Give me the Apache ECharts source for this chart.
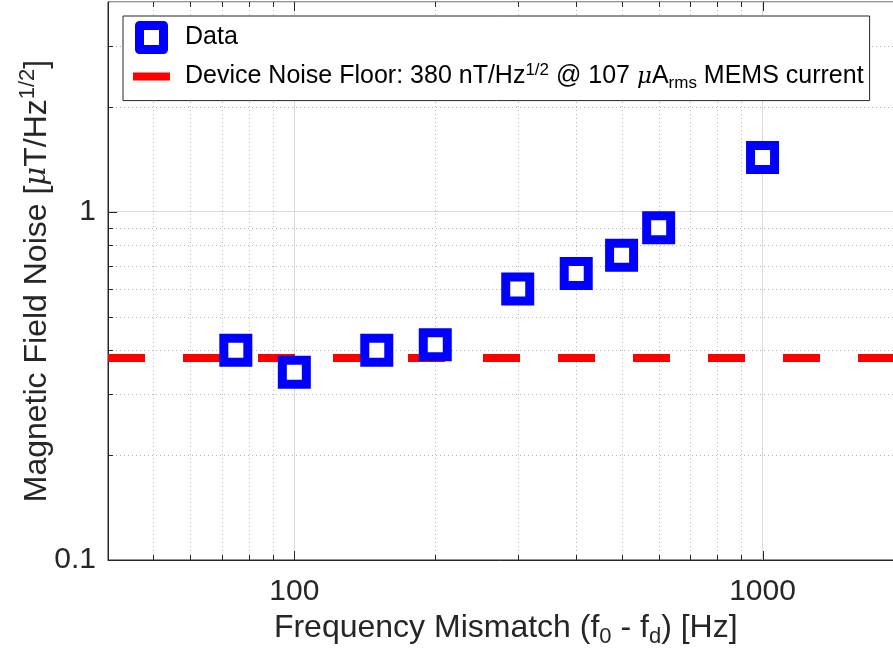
<!DOCTYPE html>
<html>
<head>
<meta charset="utf-8">
<script src="https://cdn.jsdelivr.net/npm/echarts@6/dist/echarts.min.js"></script>
<style>
  html, body { margin: 0; padding: 0; background: #fff; }
  #chart { width: 893px; height: 653px; }
</style>
</head>
<body>
<div id="chart"></div>
<script>
// Measured magnetic field noise versus drive/sense frequency mismatch
const freqHz = [75, 100, 150, 200, 300, 400, 500, 600, 1000];
const noiseUT = [0.40, 0.346, 0.40, 0.415, 0.60, 0.665, 0.75, 0.90, 1.43];

// Device noise floor: 380 nT/Hz^1/2 = 0.38 uT/Hz^1/2
const noiseFloorUT = 0.38;

// Axis ranges and log-decade grid positions
const xRange = [40, 2000];
const yRange = [0.1, 4];
const xMajorTicks = [100, 1000];
const xMinorTicks = [50, 60, 70, 80, 90, 200, 300, 400, 500, 600, 700, 800, 900];
const yMajorTicks = [1];
const yMinorTicks = [0.2, 0.3, 0.4, 0.5, 0.6, 0.7, 0.8, 0.9, 2, 3];

const FONT = '"Liberation Sans", Arial, Helvetica, sans-serif';
const MU_FONT = '"DejaVu Serif", "Liberation Serif", serif';
const AXIS_COLOR = '#262626';

const chart = echarts.init(document.getElementById('chart'), null, { renderer: 'canvas' });

// rows: [x, y, kind]  kind 0 = x major, 1 = x minor, 2 = y major, 3 = y minor
const gridRows = [];
xMajorTicks.forEach(v => gridRows.push([v, yRange[0], 0]));
xMinorTicks.forEach(v => gridRows.push([v, yRange[0], 1]));
yMajorTicks.forEach(v => gridRows.push([xRange[0], v, 2]));
yMinorTicks.forEach(v => gridRows.push([xRange[0], v, 3]));

function crisp(v) { return Math.round(v) + 0.5; }

// Dotted minor grid plus inward tick marks on the bottom, top and left edges
function renderGridMark(params, api) {
  const cs = params.coordSys;
  const kind = api.value(2);
  const p = api.coord([api.value(0), api.value(1)]);
  const tick = { stroke: AXIS_COLOR, lineWidth: 1 };
  const dotted = { stroke: '#b8b8b8', lineWidth: 1, lineDash: [1, 3] };
  const children = [];
  if (kind <= 1) {
    const x = crisp(p[0]);
    const len = kind === 0 ? 9 : 5;
    if (kind === 1) {
      children.push({ type: 'line', shape: { x1: x, y1: cs.y, x2: x, y2: cs.y + cs.height }, style: dotted });
    }
    children.push({ type: 'line', shape: { x1: x, y1: cs.y + cs.height, x2: x, y2: cs.y + cs.height - len }, style: tick });
    children.push({ type: 'line', shape: { x1: x, y1: cs.y, x2: x, y2: cs.y + len }, style: tick });
  } else {
    const y = crisp(p[1]);
    const len = kind === 2 ? 9 : 5;
    if (kind === 3) {
      children.push({ type: 'line', shape: { x1: cs.x, y1: y, x2: cs.x + cs.width, y2: y }, style: dotted });
    }
    children.push({ type: 'line', shape: { x1: cs.x, y1: y, x2: cs.x + len, y2: y }, style: tick });
  }
  return { type: 'group', children: children };
}

function decadeLabel(v) {
  const e = Math.log10(v);
  if (Math.abs(e - Math.round(e)) > 1e-6) return '';
  return String(Number(v.toPrecision(6)));
}

const legendText = {
  Data: '{n|Data}',
  noiseFloor: '{n|Device Noise Floor: 380 nT/Hz}{sup|1/2}{n| @ 107 }{mu|\u03bc}{n|A}{sub|rms}{n| MEMS current}'
};

const option = {
  animation: false,
  backgroundColor: '#fff',
  grid: {
    left: 108, top: 2, width: 795.5, bottom: 93,
    containLabel: false, outerBoundsMode: 'none',
    show: true, borderColor: AXIS_COLOR, borderWidth: 1, backgroundColor: '#fff'
  },
  xAxis: {
    type: 'log', logBase: 10, min: xRange[0], max: xRange[1],
    name: '{n|Frequency Mismatch (f}{sub|0}{n| - f}{sub|d}{n|) [Hz]}',
    nameLocation: 'middle', nameGap: 48, nameMoveOverlap: false,
    nameTextStyle: {
      color: AXIS_COLOR,
      rich: {
        n: { fontFamily: FONT, fontSize: 32, color: AXIS_COLOR, lineHeight: 40 },
        sub: { fontFamily: FONT, fontSize: 22, color: AXIS_COLOR, lineHeight: 22, verticalAlign: 'bottom' }
      }
    },
    axisLine: { show: true, lineStyle: { color: AXIS_COLOR, width: 1 } },
    axisTick: { show: false },
    axisLabel: { formatter: decadeLabel, fontFamily: FONT, fontSize: 30, color: AXIS_COLOR, margin: 17, showMinLabel: false, showMaxLabel: false },
    splitLine: { show: true, lineStyle: { color: '#dadada', width: 1 } },
    minorTick: { show: false }
  },
  yAxis: {
    type: 'log', logBase: 10, min: yRange[0], max: yRange[1],
    name: '{n|Magnetic Field Noise [}{mu|\u03bc}{n|T/Hz}{sup|1/2}{n|]}',
    nameLocation: 'middle', nameGap: 51, nameRotate: 90, nameMoveOverlap: false,
    nameTextStyle: {
      color: AXIS_COLOR,
      rich: {
        n: { fontFamily: FONT, fontSize: 32, color: AXIS_COLOR, lineHeight: 40 },
        mu: { fontFamily: MU_FONT, fontStyle: 'italic', fontSize: 29, color: AXIS_COLOR, lineHeight: 40 },
        sup: { fontFamily: FONT, fontSize: 22, color: AXIS_COLOR, lineHeight: 22, verticalAlign: 'top' }
      }
    },
    axisLine: { show: true, lineStyle: { color: AXIS_COLOR, width: 1 } },
    axisTick: { show: false },
    axisLabel: { formatter: decadeLabel, fontFamily: FONT, fontSize: 30, color: AXIS_COLOR, margin: 12, showMaxLabel: false },
    splitLine: { show: true, lineStyle: { color: '#dadada', width: 1 } },
    minorTick: { show: false }
  },
  legend: {
    orient: 'vertical', left: 123, top: 16,
    padding: [5, 6, 9, 10],
    itemWidth: 37, itemHeight: 24, itemGap: 7.6,
    symbolKeepAspect: true,
    borderColor: AXIS_COLOR, borderWidth: 1, backgroundColor: '#fff',
    selectedMode: false,
    data: [
      { name: 'Data', icon: 'path://M0,0H10V10H0Z', itemStyle: { color: '#fff', borderColor: '#0000ff', borderWidth: 9, borderJoin: 'round' } },
      { name: 'noiseFloor', icon: 'path://M0,0H37V8H0Z', itemStyle: { color: '#ff0000', borderWidth: 0 } }
    ],
    formatter: name => legendText[name],
    textStyle: {
      color: '#000',
      padding: [0, 0, 0, 10],
      rich: {
        n: { fontFamily: FONT, fontSize: 25, color: '#000', lineHeight: 30 },
        mu: { fontFamily: MU_FONT, fontStyle: 'italic', fontSize: 23, color: '#000', lineHeight: 30 },
        sup: { fontFamily: FONT, fontSize: 17, color: '#000', lineHeight: 16, verticalAlign: 'top' },
        sub: { fontFamily: FONT, fontSize: 17, color: '#000', lineHeight: 16, verticalAlign: 'bottom' }
      }
    }
  },
  series: [
    {
      name: 'gridMarks',
      type: 'custom',
      silent: true,
      renderItem: renderGridMark,
      data: gridRows,
      encode: { x: 0, y: 1 },
      z: 1
    },
    {
      name: 'noiseFloor',
      type: 'line',
      data: [[xRange[0], noiseFloorUT], [xRange[1], noiseFloorUT]],
      symbol: 'none',
      itemStyle: { color: '#ff0000' },
      lineStyle: { color: '#ff0000', width: 8, type: [37, 38], cap: 'butt' },
      z: 3
    },
    {
      name: 'Data',
      type: 'scatter',
      data: freqHz.map((f, i) => [f, noiseUT[i]]),
      symbol: 'rect',
      symbolSize: 24,
      itemStyle: { color: '#fff', borderColor: '#0000ff', borderWidth: 9, borderJoin: 'miter', opacity: 1 },
      z: 4
    }
  ]
};

chart.setOption(option);
</script>
</body>
</html>
